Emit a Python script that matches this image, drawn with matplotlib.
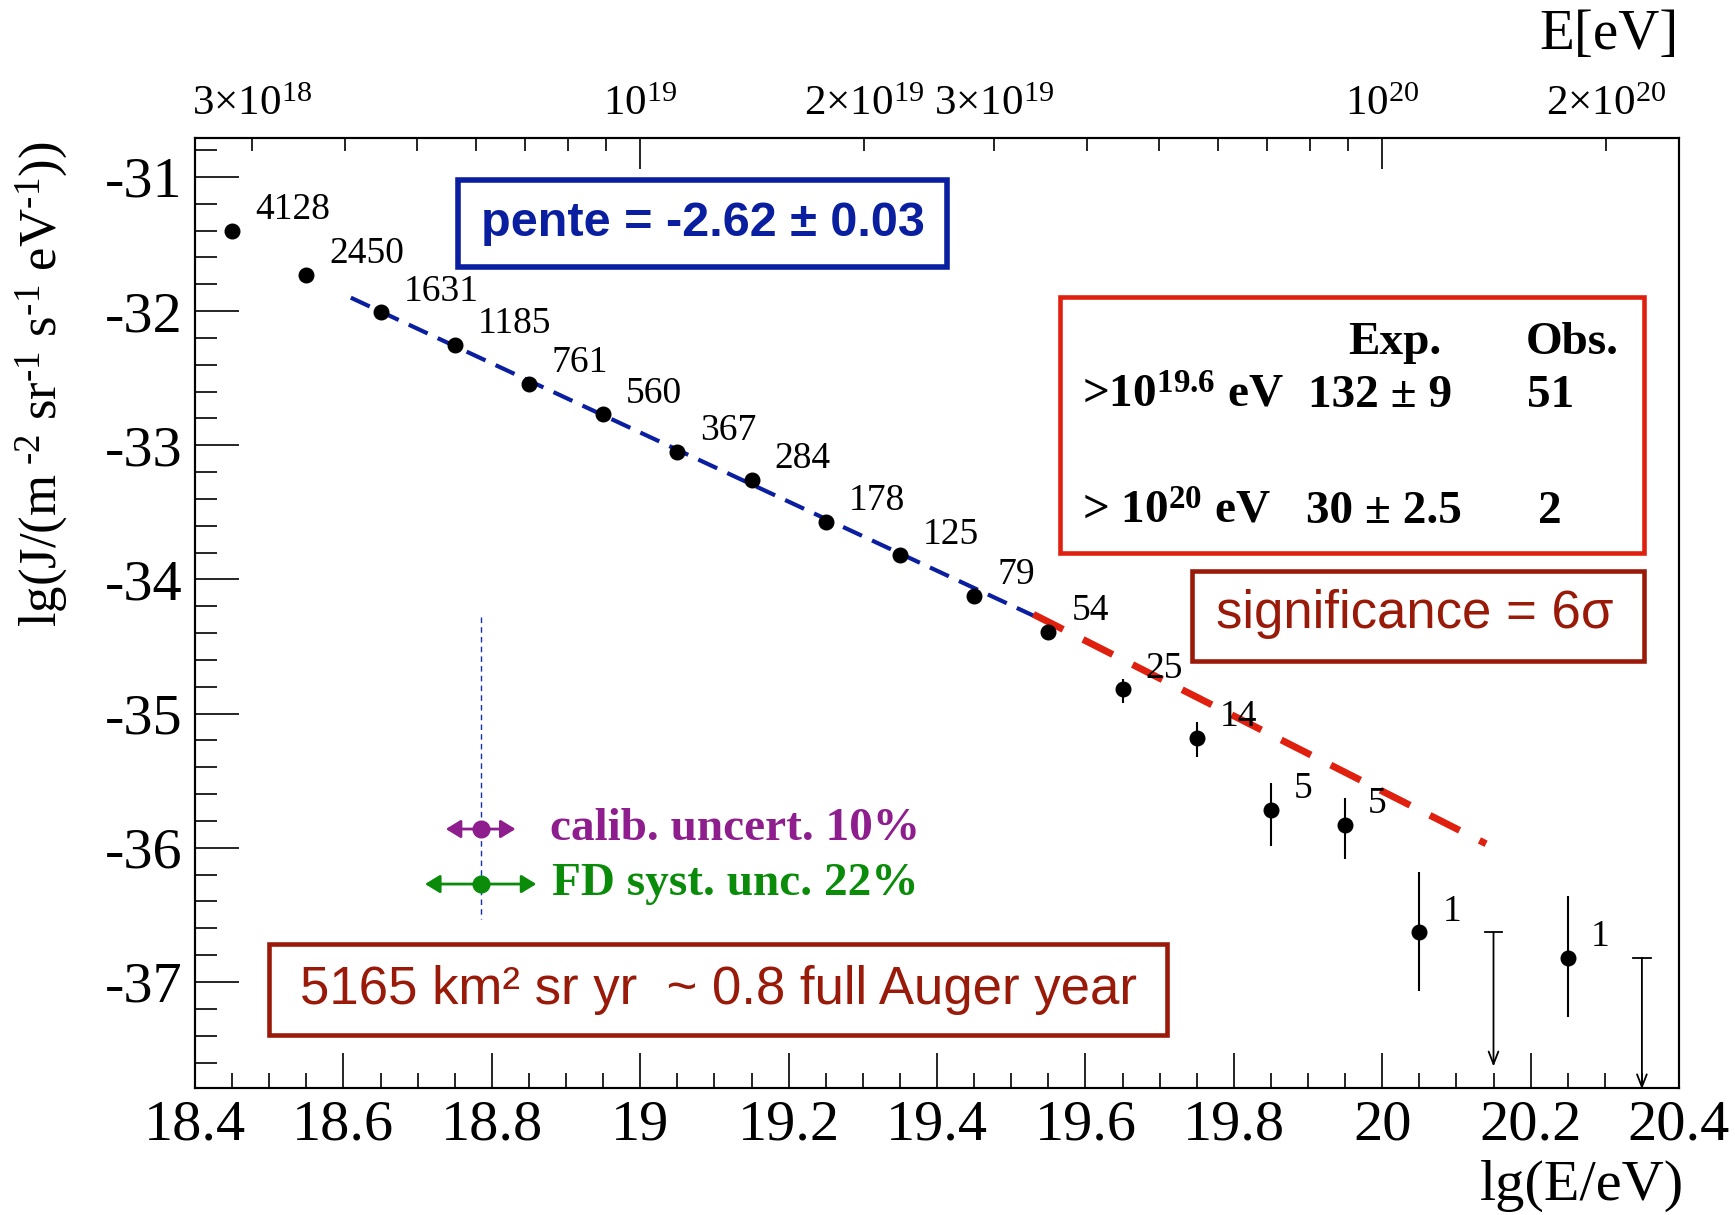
import matplotlib
matplotlib.use('Agg')
import matplotlib.pyplot as plt
import numpy as np
from matplotlib.patches import Rectangle

plt.rcParams['font.family'] = ['Liberation Serif', 'DejaVu Serif']
plt.rcParams['mathtext.fontset'] = 'custom'
plt.rcParams['mathtext.rm'] = 'Liberation Serif'
plt.rcParams['mathtext.it'] = 'Liberation Serif:italic'
plt.rcParams['mathtext.bf'] = 'Liberation Serif:bold'
plt.rcParams['axes.unicode_minus'] = False
plt.rcParams['lines.scale_dashes'] = False

# ---------------- data ----------------
lg_e = [18.45, 18.55, 18.65, 18.75, 18.85, 18.95, 19.05, 19.15, 19.25, 19.35,
        19.45, 19.55, 19.65, 19.75, 19.85, 19.95, 20.05, 20.25]
lg_j = [-31.40, -31.73, -32.01, -32.25, -32.54, -32.77, -33.05, -33.26, -33.57, -33.82,
        -34.12, -34.39, -34.82, -35.18, -35.72, -35.83, -36.63, -36.82]
err_up = [0, 0, 0, 0, 0, 0, 0, 0, 0, 0, 0, 0.03, 0.08, 0.12, 0.20, 0.20, 0.45, 0.46]
err_dn = [0, 0, 0, 0, 0, 0, 0, 0, 0, 0, 0, 0.03, 0.10, 0.14, 0.27, 0.25, 0.44, 0.44]
counts = ['4128', '2450', '1631', '1185', '761', '560', '367', '284', '178', '125',
          '79', '54', '25', '14', '5', '5', '1', '1']

ul_lg_e = [20.15, 20.35]
ul_lg_j = [-36.63, -36.82]
ul_len = [1.0, 0.98]

fit_blue_x = [18.61, 19.53]
fit_blue_y = [-31.90, -34.27]
fit_red_x = [19.53, 20.14]
fit_red_y = [-34.26, -35.97]

syst_x = 18.785
calib_y = -35.86
calib_half = 0.047
fd_y = -36.27
fd_half = 0.075
syst_line_y = [-34.28, -36.53]

x_ticks = [18.4, 18.6, 18.8, 19.0, 19.2, 19.4, 19.6, 19.8, 20.0, 20.2, 20.4]
x_ticklabels = ['18.4', '18.6', '18.8', '19', '19.2', '19.4', '19.6', '19.8', '20', '20.2', '20.4']
y_ticks = [-37, -36, -35, -34, -33, -32, -31]
y_ticklabels = ['-37', '-36', '-35', '-34', '-33', '-32', '-31']

top_major_E = [1e19, 1e20]
top_major_labels = ['10$^{19}$', '10$^{20}$']
top_minor_E = [3e18, 4e18, 5e18, 6e18, 7e18, 8e18, 9e18,
               2e19, 3e19, 4e19, 5e19, 6e19, 7e19, 8e19, 9e19, 2e20]
top_minor_labels = ['3×10$^{18}$', '', '', '', '', '', '',
                    '2×10$^{19}$', '3×10$^{19}$', '', '', '', '', '', '', '2×10$^{20}$']

# ---------------- figure ----------------
W, H = 1735, 1215
fig = plt.figure(figsize=(W / 100, H / 100), dpi=100)
fig.patch.set_facecolor('white')
ax = fig.add_axes([195 / W, 1 - 1088 / H, (1679 - 195) / W, (1088 - 138) / H])
ax.set_xlim(18.4, 20.4)
ax.set_ylim(-37.79, -30.71)

for s in ax.spines.values():
    s.set_linewidth(1.5)

ax.set_xticks(x_ticks)
ax.set_xticklabels(x_ticklabels)
ax.set_xticks(np.arange(18.45, 20.4, 0.05), minor=True)
ax.set_yticks(y_ticks)
ax.set_yticklabels(y_ticklabels)
ax.set_yticks(np.arange(-37.6, -30.7, 0.2), minor=True)
ax.tick_params(axis='x', which='major', direction='in', length=25, width=1.2,
               labelsize=42, pad=8, top=False)
ax.tick_params(axis='x', which='minor', direction='in', length=11, width=1.2, top=False)
ax.tick_params(axis='y', which='major', direction='in', length=32, width=1.2,
               labelsize=42, pad=9, right=False)
ax.tick_params(axis='y', which='minor', direction='in', length=16, width=1.2, right=False)

# top energy axis
ax2 = ax.twiny()
ax2.set_xlim(ax.get_xlim())
ax2.set_xticks(np.log10(top_major_E))
ax2.set_xticklabels(top_major_labels)
ax2.set_xticks(np.log10(top_minor_E), minor=True)
ax2.set_xticklabels(top_minor_labels, minor=True)
ax2.tick_params(axis='x', which='major', direction='in', length=22, width=1.2,
                labelsize=31, pad=10)
ax2.tick_params(axis='x', which='minor', direction='in', length=9, width=1.2,
                labelsize=31, pad=10)
for s in ax2.spines.values():
    s.set_linewidth(1.5)

# fit lines
ax.plot(fit_blue_x, fit_blue_y, color='#0A1EA0', lw=3, dashes=(15, 8), zorder=2)
ax.plot(fit_red_x, fit_red_y, color='#E0200F', lw=5, dashes=(24, 16), zorder=2)

# data points
ax.errorbar(lg_e, lg_j, yerr=[err_dn, err_up], fmt='o', color='black', ms=10.5,
            elinewidth=1.5, capsize=0, zorder=3)
for xe, yj, c in zip(lg_e, lg_j, counts):
    ax.annotate(c, (xe, yj), xytext=(23, 21), textcoords='offset pixels',
                ha='left', va='center', fontsize=27, color='black', zorder=4)

# upper limits
for xe, yj, ln in zip(ul_lg_e, ul_lg_j, ul_len):
    ax.plot([xe - 0.012, xe + 0.012], [yj, yj], color='black', lw=1.3)
    ax.annotate('', xy=(xe, yj - ln), xytext=(xe, yj), annotation_clip=False,
                arrowprops=dict(arrowstyle='->,head_length=0.9,head_width=0.35',
                                color='black', lw=1.3, shrinkA=0, shrinkB=0))

# systematic markers
ax.plot([syst_x, syst_x], syst_line_y, color='#1030C0', lw=1, dashes=(4, 3), zorder=2)
ax.annotate('', xy=(syst_x - calib_half, calib_y), xytext=(syst_x + calib_half, calib_y),
            arrowprops=dict(arrowstyle='<|-|>,head_length=0.9,head_width=0.55',
                            color='#8E1E8E', lw=2, shrinkA=0, shrinkB=0))
ax.plot([syst_x], [calib_y], 'o', color='#8E1E8E', ms=12, zorder=4)
ax.annotate('', xy=(syst_x - fd_half, fd_y), xytext=(syst_x + fd_half, fd_y),
            arrowprops=dict(arrowstyle='<|-|>,head_length=0.9,head_width=0.55',
                            color='#0A8C0A', lw=2, shrinkA=0, shrinkB=0))
ax.plot([syst_x], [fd_y], 'o', color='#0A8C0A', ms=12, zorder=4)
ax.text(18.879, calib_y, 'calib. uncert. 10%', color='#8E1E8E', fontsize=34,
        fontweight='bold', ha='left', va='center')
ax.text(18.881, fd_y, 'FD syst. unc. 22%', color='#0A8C0A', fontsize=34,
        fontweight='bold', ha='left', va='center')

# axis titles
fig.text(1679 / W, 1 - 35 / H, 'E[eV]', ha='right', va='center', fontsize=41)
fig.text(1684 / W, 1 - 1186 / H, 'lg(E/eV)', ha='right', va='center', fontsize=42)
fig.text(42 / W, 1 - 384 / H,
         'lg(J/(m$^{\\text{ -2}}$ sr$^{\\text{-1}}$ s$^{\\text{-1}}$ eV$^{\\text{-1}}$))',
         ha='center', va='center', rotation=90, fontsize=38)


def box(x0, y0, x1, y1, color, lw):
    fig.add_artist(Rectangle((x0 / W, 1 - y1 / H), (x1 - x0) / W, (y1 - y0) / H,
                             transform=fig.transFigure, fill=False, ec=color, lw=lw,
                             zorder=5))


def ftext(x, y, s, **kw):
    fig.text(x / W, 1 - y / H, s, **kw)


# pente box
box(458, 180, 947, 267, '#0A1EA0', 4)
ftext(703, 224, 'pente = -2.62 ± 0.03', ha='center', va='center', fontsize=35,
      fontweight='bold', color='#0A1EA0', family='Liberation Sans')

# table box
box(1060, 297, 1644, 553, '#E0200F', 3.3)
tb = dict(fontsize=34, fontweight='bold', color='black', va='center')
ftext(1395, 343, 'Exp.', ha='center', **tb)
ftext(1572, 343, 'Obs.', ha='center', **tb)
ftext(1082, 396, '>10$^{\\mathbf{19.6}}$ eV', ha='left', **tb)
ftext(1308, 396, '132 ± 9', ha='left', **tb)
ftext(1527, 396, '51', ha='left', **tb)
ftext(1082, 512, '> 10$^{\\mathbf{20}}$ eV', ha='left', **tb)
ftext(1306, 512, '30 ± 2.5', ha='left', **tb)
ftext(1538, 512, '2', ha='left', **tb)

# significance box
box(1192, 571, 1644, 661, '#9A1A0A', 3.3)
ftext(1415, 614, 'significance = 6σ', ha='center', va='center', fontsize=38,
      color='#9A1A0A', family='Liberation Sans')

# exposure box
box(269, 944, 1167, 1035, '#9A1A0A', 3.3)
ftext(718, 990, '5165 km² sr yr  ~ 0.8 full Auger year', ha='center', va='center',
      fontsize=38, color='#9A1A0A', family='Liberation Sans')

fig.savefig('out.png', dpi=100, facecolor='white')
